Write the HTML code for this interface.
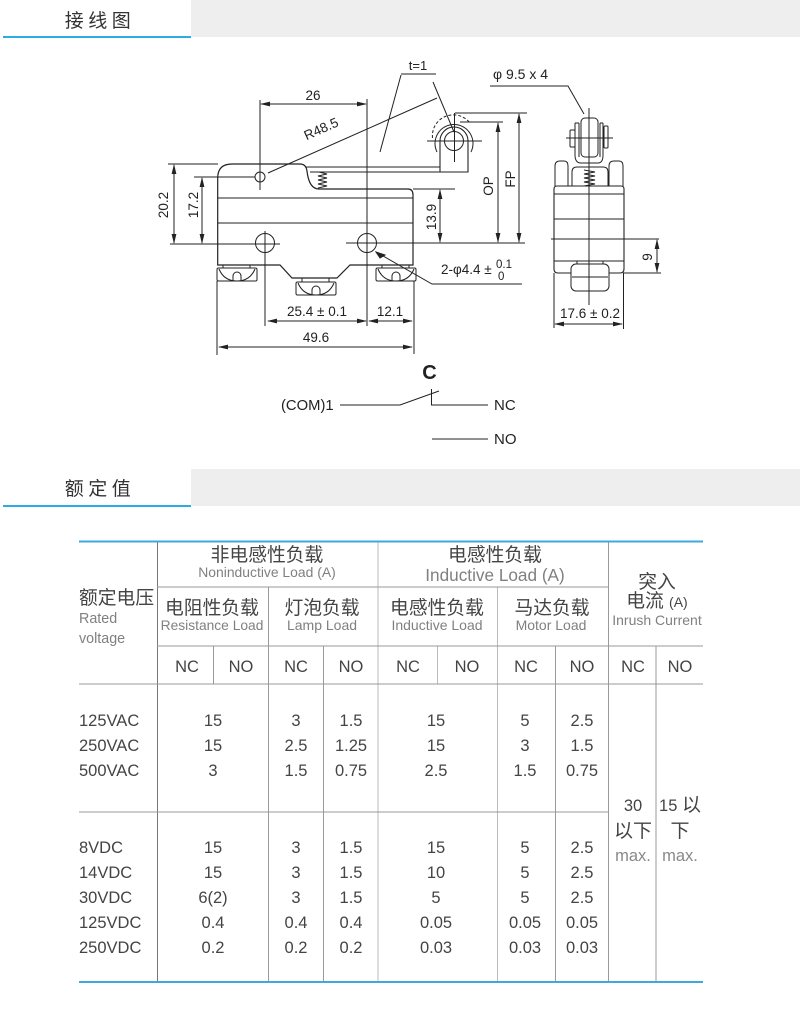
<!DOCTYPE html>
<html><head><meta charset="utf-8"><style>
html,body{margin:0;padding:0;background:#fff}
svg{display:block}
.d{font-family:"Liberation Sans",sans-serif;font-size:13.5px;fill:#222}
.t{font-family:"Liberation Sans","Noto Sans CJK SC",sans-serif;fill:#444}
.c{text-anchor:middle}
.cj{font-size:18.800px;font-weight:400}
.n{font-size:16.500px}
.g{fill:#808080}
.h{font-family:"Liberation Sans","Noto Sans CJK SC",sans-serif;font-size:19px;fill:#333;text-anchor:middle;letter-spacing:4.5px}
</style></head><body>
<svg width="800" height="1014" viewBox="0 0 800 1014" xmlns="http://www.w3.org/2000/svg">
<defs>
<marker id="a" markerWidth="10" markerHeight="6" refX="9" refY="3" orient="auto-start-reverse" markerUnits="userSpaceOnUse"><path d="M0 0.6L10 3L0 5.4Z" fill="#222"/></marker>
</defs>
<!-- headers -->
<rect x="191" y="0" width="609" height="37" fill="#eee"/>
<rect x="3" y="36" width="188" height="2" fill="#2bace2"/>
<text class="h" x="100" y="27">接线图</text>
<rect x="191" y="469" width="609" height="37" fill="#eee"/>
<rect x="3" y="505" width="188" height="2" fill="#2bace2"/>
<text class="h" x="100" y="495">额定值</text>

<!-- drawing -->
<g fill="none" stroke="#222" stroke-width="1">
<path stroke-width="1.2" d="M217.7 265V178Q217.7 164 232 164H300Q306 164 307 171Q309 189 319 189H408Q413 189 413 195V265H350L337 278H292L280 265Z"/>
<path d="M218 198H413M218 223H413"/>
<path stroke-width="1.1" d="M305 167H440M310 172H468V141A14 14 0 0 0 440 141V172"/>
<path d="M319 172l8 2l-9 2l9 2l-9 2l9 2l-9 2l9 2l-9 2"/>
<!-- centre lines and holes -->
<circle cx="260" cy="177" r="5"/><circle cx="265" cy="243" r="9.5"/><circle cx="367" cy="243" r="9.5"/>
<path d="M260 100V190M367 99V326M265 231V326M168 164H218M194 177H255M170 244H280M346 243H525M455 113H527M460 122H503M413 189H455"/>
<!-- lever roller -->
<circle cx="454" cy="141" r="9.5"/>
<path d="M437 152A19 19 0 1 1 471 152"/>
<path d="M432.500 138A21 21 0 0 1 470 123" stroke-dasharray="3 2"/>
<path d="M427 141H482M454.500 113V162"/>
<!-- leaders -->
<path d="M268 173L437 98M401 74H436M401 75L380 152M433 82L454 132M376 252L432 284H522"/>
<!-- terminals -->
<rect x="223" y="265" width="27" height="3"/>
<rect x="217" y="268" width="40" height="13" rx="1.5"/>
<path d="M219 269Q224 281 237 281Q250 281 255 269M233 281V276A4 4 0 0 1 241 276V281"/>
<g transform="translate(159 0)"><rect x="217" y="268" width="40" height="13" rx="1.5"/><path d="M219 269Q224 281 237 281Q250 281 255 269M233 281V276A4 4 0 0 1 241 276V281"/><rect x="223" y="265" width="27" height="3"/></g>
<g transform="translate(79 14)"><rect x="217" y="268" width="40" height="13" rx="1.5"/><path d="M219 269Q224 281 237 281Q250 281 255 269M233 281V276A4 4 0 0 1 241 276V281"/><rect x="223" y="264" width="27" height="4"/></g>
<!-- dimensions -->
<path d="M261 104H366" marker-start="url(#a)" marker-end="url(#a)"/>
<path d="M174 165V243" marker-start="url(#a)" marker-end="url(#a)"/>
<path d="M202 178V243" marker-start="url(#a)" marker-end="url(#a)"/>
<path d="M440 190V242" marker-start="url(#a)" marker-end="url(#a)"/>
<path d="M498 123V242" marker-start="url(#a)" marker-end="url(#a)"/>
<path d="M519 114V242" marker-start="url(#a)" marker-end="url(#a)"/>
<path d="M268 321H366" marker-start="url(#a)" marker-end="url(#a)"/>
<path d="M369 321H412" marker-start="url(#a)" marker-end="url(#a)"/>
<path d="M219 347H412" marker-start="url(#a)" marker-end="url(#a)"/>
<path d="M217 281V355M414 281V354"/>
<path d="M376 252l9 3l-5 3z" fill="#222"/>
<!-- circuit -->
<path d="M340 405H400L439 391M431.500 389V405H488M432 439H488"/>
<!-- side view -->
<path d="M490 86H568L584 114M589 108V305"/>
<rect x="581" y="118" width="17" height="39" rx="4"/>
<path d="M575 123V155Q575 163 581 163H598Q603 163 603 155V123M579 123V157M600 123V157M575 123H579M600 123H603"/>
<rect x="570" y="130" width="5" height="17" rx="1"/><rect x="604" y="126" width="4" height="22" rx="1"/>
<path d="M566 138H613"/>
<path d="M555 186V166Q555 161 560 161H564Q568 161 568 166V186M609 186V166Q609 161 614 161H619Q623 161 623 166V186"/>
<path d="M572 186V172Q572 167 577 167H603Q608 167 608 172V186"/>
<path d="M584 170l11 2l-11 2l11 2l-11 2l11 2l-11 2l11 2l-11 2"/>
<path d="M554 269V189Q554 186 557 186H621Q624 186 624 189V269Q624 273 620 273H558Q554 273 554 269Z" stroke-width="1.1"/>
<path d="M554 194H624M554 219H624M554 261H624M551 239H659"/>
<rect x="577" y="261" width="26" height="3"/>
<rect x="571" y="264" width="38" height="27" rx="5" fill="#fff"/>
<path d="M572 277H608M589 264V305"/>
<path d="M657 240V272" marker-start="url(#a)" marker-end="url(#a)"/>
<path d="M623 273H661M554 273V328M623.500 273V329"/>
<path d="M555 324H622" marker-start="url(#a)" marker-end="url(#a)"/>
</g>
<!-- drawing text -->
<g class="d">
<text class="c" x="313" y="100">26</text>
<text class="c" x="418" y="70" font-size="13">t=1</text>
<text class="c" transform="translate(323 133) rotate(-24)">R48.5</text>
<text class="c" transform="translate(168 205) rotate(-90)">20.2</text>
<text class="c" transform="translate(198 205) rotate(-90)">17.2</text>
<text class="c" transform="translate(436 217) rotate(-90)">13.9</text>
<text class="c" transform="translate(493 186) rotate(-90)">OP</text>
<text class="c" transform="translate(515 179) rotate(-90)">FP</text>
<text class="c" transform="translate(652 257) rotate(-90)">9</text>
<text class="c" x="317" y="316">25.4 ± 0.1</text>
<text class="c" x="390" y="316">12.1</text>
<text class="c" x="316" y="342">49.6</text>
<text x="441" y="274">2-φ4.4 ±</text>
<text x="496" y="268" font-size="11.500">0.1</text>
<text x="498" y="280" font-size="11.500">0</text>
<text x="493" y="79" font-size="14">φ 9.5 x 4</text>
<text class="c" x="590" y="318">17.6 ± 0.2</text>
<text x="281" y="410" font-size="14.800">(COM)1</text>
<text x="494" y="410" font-size="15">NC</text>
<text x="494" y="444" font-size="15">NO</text>
<text class="c" x="429.500" y="379" font-size="20" font-weight="bold">C</text>
</g>

<!-- table lines -->
<g fill="none">
<path stroke="#777" d="M157.500 541V982"/>
<path stroke="#bbb" d="M378 541V982M497.500 587V982M437.500 646V684"/>
<path stroke="#999" d="M608.500 541V982M268.500 587V982M323.500 646V982M555.500 646V982M656 646V982M213.500 646V684"/>
<path stroke="#999" d="M157 587H608M157 646H703M79 684H703M79 812H608"/>
</g>
<rect x="79" y="540.500" width="624" height="2" fill="#3fa9dc"/>
<rect x="79" y="981" width="624" height="2" fill="#3fa9dc"/>

<!-- table text -->
<g class="t">
<g class="c cj">
<text x="267" y="561">非电感性负载</text>
<text x="495" y="561">电感性负载</text>
<text x="212" y="614">电阻性负载</text>
<text x="322" y="614">灯泡负载</text>
<text x="437" y="614">电感性负载</text>
<text x="552" y="614">马达负载</text>
<text x="657" y="588">突入</text>
<text x="657" y="607">电流 <tspan font-size="14">(A)</tspan></text>
</g>
<text x="79" y="604" font-size="18.800">额定电压</text>
<g class="g">
<text x="79" y="623" font-size="14.300">Rated</text>
<text x="79" y="643" font-size="14.300">voltage</text>
<g class="c" font-size="14">
<text x="267" y="577" font-size="13.900">Noninductive Load (A)</text>
<text x="495" y="581" font-size="17.200">Inductive Load (A)</text>
<text x="212" y="630" font-size="13.800">Resistance Load</text>
<text x="322" y="630">Lamp Load</text>
<text x="437" y="630">Inductive Load</text>
<text x="551" y="630">Motor Load</text>
<text x="657" y="625">Inrush Current</text>
</g>
</g>
<g class="c n">
<text x="187" y="672">NC</text><text x="241" y="672">NO</text>
<text x="296" y="672">NC</text><text x="351" y="672">NO</text>
<text x="408" y="672">NC</text><text x="467" y="672">NO</text>
<text x="526" y="672">NC</text><text x="582" y="672">NO</text>
<text x="633" y="672">NC</text><text x="680" y="672">NO</text>
</g>
<g class="n">
<text x="79" y="726">125VAC</text><text x="79" y="751">250VAC</text><text x="79" y="776">500VAC</text>
<text x="79" y="853">8VDC</text><text x="79" y="878">14VDC</text><text x="79" y="903">30VDC</text><text x="79" y="928">125VDC</text><text x="79" y="953">250VDC</text>
</g>
<g class="c n">
<text x="213" y="726">15</text><text x="296" y="726">3</text><text x="351" y="726">1.5</text><text x="436" y="726">15</text><text x="525" y="726">5</text><text x="582" y="726">2.5</text>
<text x="213" y="751">15</text><text x="296" y="751">2.5</text><text x="351" y="751">1.25</text><text x="436" y="751">15</text><text x="525" y="751">3</text><text x="582" y="751">1.5</text>
<text x="213" y="776">3</text><text x="296" y="776">1.5</text><text x="351" y="776">0.75</text><text x="436" y="776">2.5</text><text x="525" y="776">1.5</text><text x="582" y="776">0.75</text>
<text x="213" y="853">15</text><text x="296" y="853">3</text><text x="351" y="853">1.5</text><text x="436" y="853">15</text><text x="525" y="853">5</text><text x="582" y="853">2.5</text>
<text x="213" y="878">15</text><text x="296" y="878">3</text><text x="351" y="878">1.5</text><text x="436" y="878">10</text><text x="525" y="878">5</text><text x="582" y="878">2.5</text>
<text x="213" y="903">6(2)</text><text x="296" y="903">3</text><text x="351" y="903">1.5</text><text x="436" y="903">5</text><text x="525" y="903">5</text><text x="582" y="903">2.5</text>
<text x="213" y="928">0.4</text><text x="296" y="928">0.4</text><text x="351" y="928">0.4</text><text x="436" y="928">0.05</text><text x="525" y="928">0.05</text><text x="582" y="928">0.05</text>
<text x="213" y="953">0.2</text><text x="296" y="953">0.2</text><text x="351" y="953">0.2</text><text x="436" y="953">0.03</text><text x="525" y="953">0.03</text><text x="582" y="953">0.03</text>
<text x="633" y="811">30</text><text x="633" y="837" font-size="19">以下</text><text x="633" y="861" fill="#888">max.</text>
<text x="680" y="811">15 <tspan font-size="19">以</tspan></text><text x="680" y="837" font-size="19">下</text><text x="680" y="861" fill="#888">max.</text>
</g>
</g>
</svg>
</body></html>
